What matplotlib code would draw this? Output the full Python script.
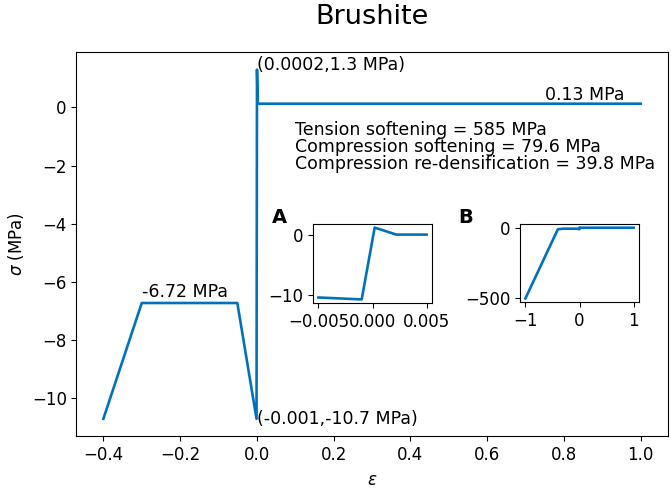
import matplotlib
matplotlib.use("Agg")
import matplotlib.pyplot as plt

# main curve
strain = [-0.4, -0.3, -0.051, -0.001, 0.0002, 0.0022, 1.0]
stress = [-10.7, -6.72, -6.72, -10.7, 1.3, 0.13, 0.13]

# inset A (zoom around origin)
strain_a = [-0.005, -0.001, 0.0002, 0.0022, 0.005]
stress_a = [-10.38, -10.7, 1.3, 0.13, 0.13]

# inset B (wide view)
strain_b = [-1.0, -0.4, -0.3, -0.051, -0.001, 0.0002, 0.0022, 1.0]
stress_b = [-500.0, -10.7, -6.72, -6.72, -10.7, 1.3, 0.13, 0.13]

slope_labels = ["Tension softening = 585 MPa",
                "Compression softening = 79.6 MPa",
                "Compression re-densification = 39.8 MPa"]

color = "#0072BD"
plt.rcParams['font.size'] = 12

fig = plt.figure(figsize=(6.71, 4.88), dpi=100)
ax = fig.add_axes([0.114, 0.106, 0.881, 0.787])
ax.plot(strain, stress, color=color, lw=1.9)
ax.set_title("Brushite", fontsize=19.5, pad=20)
ax.set_xlabel(r"$\varepsilon$", labelpad=5)
ax.set_ylabel(r"$\sigma$ (MPa)")
ax.tick_params(labelsize=12)

ax.text(0.0002, 1.3, "(0.0002,1.3 MPa)", fontsize=12.5)
ax.text(-0.001, -10.7, "(-0.001,-10.7 MPa)", fontsize=12.5, va='center')
ax.text(-0.3, -6.52, "-6.72 MPa", fontsize=12.5)
ax.text(0.75, 0.25, "0.13 MPa", fontsize=12.5)
ax.text(0.1, -0.45, "\n".join(slope_labels), fontsize=12.5, va='top', linespacing=0.95)

W, H = 671, 488
def rect(l, r, t, b):
    return [l / W, 1 - b / H, (r - l) / W, (b - t) / H]

axa = fig.add_axes(rect(313, 432, 224, 303))
axa.plot(strain_a, stress_a, color=color, lw=1.9)
axa.set_xticks([-0.005, 0.0, 0.005])
axa.set_xticklabels(["\u22120.005", "0.000", "0.005"])
axa.tick_params(labelsize=12)

axb = fig.add_axes(rect(520, 639, 224, 302))
axb.plot(strain_b, stress_b, color=color, lw=1.9)
axb.set_xticks([-1, 0, 1])
axb.set_yticks([0, -500])
axb.tick_params(labelsize=12)

fig.text(272 / W, 1 - 223 / H, "A", fontsize=14, fontweight='bold')
fig.text(458 / W, 1 - 223 / H, "B", fontsize=14, fontweight='bold')

fig.savefig("out.png", dpi=100)
